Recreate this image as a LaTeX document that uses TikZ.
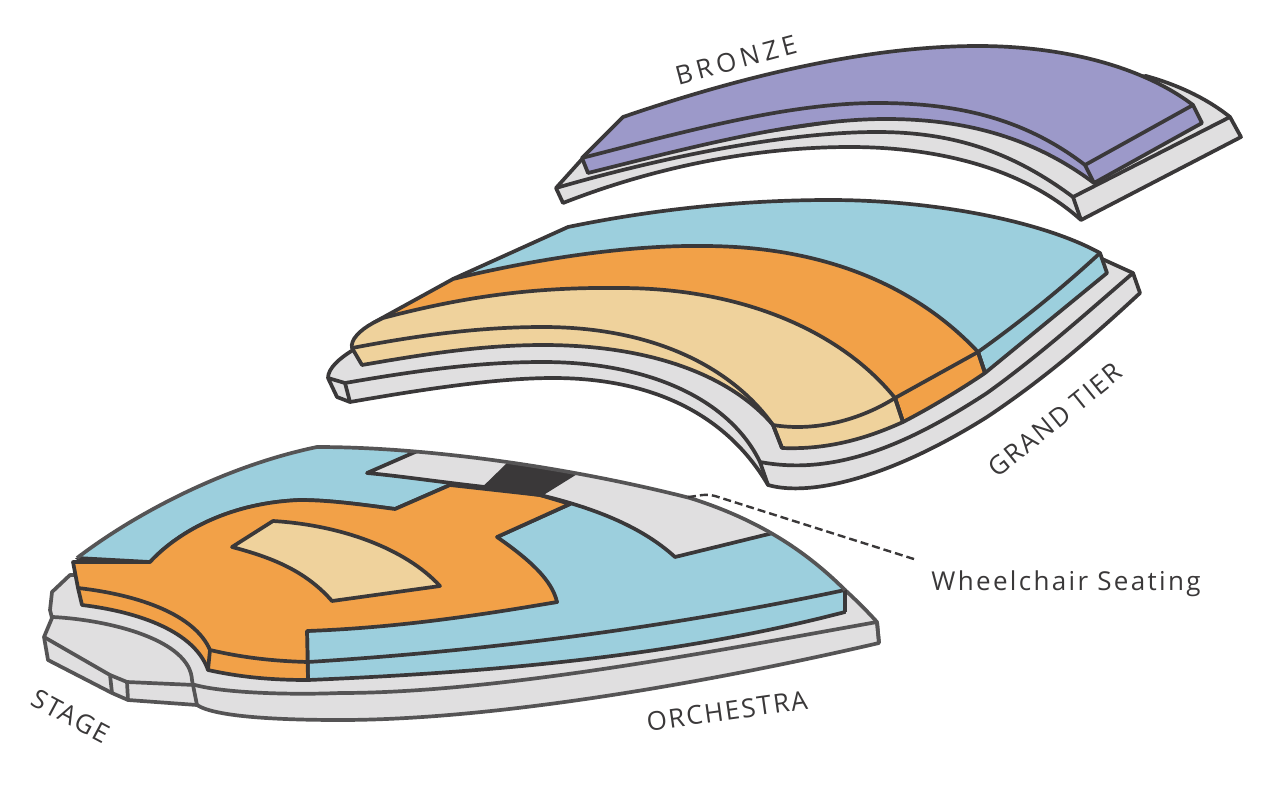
\documentclass[tikz,border=0pt]{standalone}
\usepackage{fontspec}
\usepackage{tikz}
\newfontfamily\tierfont[LetterSpace=7]{Open Sans}
\newfontfamily\widefont[LetterSpace=17]{Open Sans}
\newfontfamily\notefont[LetterSpace=9]{Open Sans}
\definecolor{inkgray}{HTML}{3A3839}
\definecolor{rimgray}{HTML}{555455}
\definecolor{slabgray}{HTML}{E0DFE0}
\definecolor{seatblue}{HTML}{9CCFDD}
\definecolor{seatorange}{HTML}{F2A148}
\definecolor{seatcream}{HTML}{EFD29C}
\definecolor{seatpurple}{HTML}{9C99C9}
\def\drawslab{\draw[fill=slabgray,line width=3.7pt,line join=round,draw=inkgray]}
\def\drawfloor{\draw[fill=slabgray,line width=3.7pt,line join=round,draw=rimgray]}
\def\drawedge{\draw[line width=3.7pt,line join=round,draw=inkgray]}
\def\drawrim{\draw[line width=3.7pt,line join=round,draw=rimgray]}
\def\tiernode{\node[text=inkgray,font=\tierfont\fontsize{26}{26}\selectfont]}
\begin{document}
\begin{tikzpicture}[x=1pt,y=-1pt]
\useasboundingbox (0,0) rectangle (1281,800);

% ---------- BRONZE ----------
\drawslab (556,188) -- (583,158) -- (1146,76)
  .. controls (1175,84) and (1205,97) .. (1230,117)
  -- (1241,137) -- (1081,220)
  .. controls (1020,165) and (930,147) .. (850,147)
  .. controls (760,147) and (660,165) .. (563,203)
  -- cycle;
\drawedge (1230,117) -- (1073,197)
  .. controls (1010,150) and (950,132) .. (877,132)
  .. controls (790,132) and (670,155) .. (556,188);
\drawedge (1073,197) -- (1081,220);
% purple block
\drawslab[fill=seatpurple] (582,158) -- (623,117)
  .. controls (760,70) and (880,46) .. (978,46)
  .. controls (1060,46) and (1140,65) .. (1193,105)
  -- (1202,123) -- (1094,183)
  .. controls (1030,135) and (960,119) .. (886,119)
  .. controls (800,119) and (700,145) .. (588,173)
  -- cycle;
\drawedge (1193,105) -- (1085,165)
  .. controls (1020,115) and (950,103) .. (877,103)
  .. controls (790,103) and (690,130) .. (582,158);
\drawedge (1085,165) -- (1094,183);

% ---------- GRAND TIER ----------
\drawslab (353,350) .. controls (340,358) and (328,368) .. (328,378)
  -- (337,397) -- (350,402)
  .. controls (430,388) and (500,378) .. (553,378)
  .. controls (660,378) and (730,420) .. (768,485)
  .. controls (810,497) and (890,478) .. (987,417)
  .. controls (1050,375) and (1100,330) .. (1140,293)
  -- (1133,273) -- (1100,258) -- cycle;
\drawedge (328,378) -- (345,383)
  .. controls (420,370) and (480,362) .. (543,362)
  .. controls (650,362) and (730,400) .. (760,462)
  .. controls (830,475) and (900,450) .. (987,393)
  .. controls (1040,355) and (1090,310) .. (1133,273);
\drawedge (345,383) -- (350,402);
\drawedge (760,462) -- (768,485);
% blue seats at the back
\drawslab[fill=seatblue] (453,279) -- (568,227)
  .. controls (650,210) and (740,200) .. (830,200)
  .. controls (930,200) and (1040,220) .. (1100,253)
  -- (1107,273) -- (985,373) -- (978,352) -- (895,398) -- (720,300) -- cycle;
\drawedge (1100,253) .. controls (1060,290) and (1020,322) .. (978,352);
% orange seats
\drawslab[fill=seatorange] (373,323) -- (453,279)
  .. controls (540,258) and (630,245) .. (703,246)
  .. controls (830,246) and (920,290) .. (978,352)
  -- (985,373) .. controls (960,390) and (930,408) .. (903,422)
  -- (895,398) -- (703,340) -- cycle;
\drawedge (978,352) -- (895,398);
% cream seats
\drawslab[fill=seatcream] (352,348)
  .. controls (350,340) and (360,330) .. (373,323)
  -- (383,318)
  .. controls (470,295) and (540,287) .. (620,288)
  .. controls (740,288) and (840,330) .. (895,398)
  -- (903,422)
  .. controls (870,437) and (830,450) .. (782,448)
  -- (773,425)
  .. controls (730,375) and (650,345) .. (543,345)
  .. controls (480,345) and (420,355) .. (362,365)
  -- cycle;
\drawedge (352,348)
  .. controls (420,335) and (480,327) .. (543,327)
  .. controls (650,327) and (730,365) .. (773,425)
  .. controls (815,432) and (860,420) .. (895,398);
\drawedge (773,425) -- (782,448);
\drawedge (895,398) -- (903,422);
\drawedge (978,352) -- (985,373);

% ---------- ORCHESTRA ----------
% floor slab with the stage
\drawfloor (70,575) -- (52,592) -- (50,610) -- (52,618) -- (44,637) -- (48,660)
  -- (112,693) -- (128,700) -- (197,705)
  .. controls (215,717) and (280,720) .. (340,720)
  .. controls (500,720) and (720,680) .. (879,643)
  -- (877,622) .. controls (867,611) and (856,600) .. (845,590) -- cycle;
\drawrim (44,637) -- (110,675) -- (112,693);
\drawrim (110,675) -- (127,682) -- (128,700);
\drawrim (127,682) -- (195,685)
  .. controls (225,693) and (290,695) .. (340,693)
  .. controls (500,693) and (720,650) .. (877,622);
\drawrim (877,622) -- (879,643);
\drawrim (53,617) .. controls (110,620) and (190,640) .. (192,680) -- (197,705);
% seats, cut off along the rear rail
\begin{scope}
\clip (77,558) .. controls (140,510) and (230,465) .. (317,447)
  .. controls (420,447) and (560,465) .. (690,498)
  .. controls (750,517) and (800,545) .. (845,590)
  -- (850,700) -- (60,700) -- (60,558) -- cycle;
% blue seats at the right
\drawslab[fill=seatblue] (570,504) -- (497,537) -- (557,602) -- (307,631) -- (308,680)
  .. controls (500,672) and (680,655) .. (845,612)
  -- (845,560) -- (773,500) -- (600,480) -- cycle;
\drawedge (308,662) .. controls (500,650) and (680,625) .. (845,590);
% blue seats at the left
\drawslab[fill=seatblue] (77,558) -- (150,562)
  .. controls (175,535) and (225,503) .. (300,500)
  .. controls (330,500) and (365,505) .. (395,509)
  -- (450,485) -- (470,420) -- (60,420) -- cycle;
% orange seats
\drawslab[fill=seatorange] (73,562) -- (150,562)
  .. controls (175,535) and (225,503) .. (300,500)
  .. controls (330,500) and (365,505) .. (395,509)
  -- (450,485) -- (540,495) -- (570,504) -- (497,537)
  .. controls (530,560) and (552,580) .. (557,602)
  .. controls (470,617) and (390,628) .. (307,631)
  -- (308,680)
  .. controls (270,680) and (240,677) .. (208,670)
  .. controls (195,632) and (140,612) .. (82,605)
  -- (78,588) -- cycle;
\drawedge (78,588) .. controls (140,595) and (195,615) .. (210,650)
  .. controls (240,657) and (270,661) .. (308,662);
\drawedge (210,650) -- (208,670);
% cream seats
\drawslab[fill=seatcream] (232,547) -- (273,521)
  .. controls (340,525) and (405,548) .. (440,586)
  -- (332,601)
  .. controls (305,570) and (270,557) .. (232,547) -- cycle;
% strip along the rear rail
\drawslab (422,440) -- (523,450) -- (523,462) -- (485,487)
  .. controls (440,482) and (400,476) .. (367,473) -- (422,449) -- cycle;
\drawslab[fill=inkgray] (523,450) -- (590,462) -- (540,495) -- (485,487) -- cycle;
\drawslab (577,472) -- (590,460) -- (790,510) -- (773,533) -- (675,557)
  .. controls (640,525) and (590,507) .. (540,495) -- cycle;
\end{scope}
\drawedge (845,590) -- (845,612);
% rear rail over everything
\drawrim (77,558) .. controls (140,510) and (230,465) .. (317,447)
  .. controls (420,447) and (560,465) .. (690,498)
  .. controls (750,517) and (800,545) .. (845,590);

% ---------- labels ----------
\coordinate (dash_start) at (688,497);
\coordinate (dash_bend) at (715,496);
\coordinate (dash_end) at (917,560);
\draw[line width=2.4pt,draw=inkgray,dash pattern=on 8pt off 4pt] (dash_start) to[out=5,in=165] (dash_bend) -- (dash_end);
\node[text=inkgray,font=\widefont\fontsize{26}{26}\selectfont] (bronze) at (736,60) [rotate=15] {BRONZE};
\tiernode (grandtier) at (1055,420) [rotate=39] {GRAND TIER};
\tiernode (orchestra) at (727,711) [rotate=8] {ORCHESTRA};
\tiernode (stage) at (71,716) [rotate=-28] {STAGE};
\node[text=inkgray,font=\notefont\fontsize{26}{26}\selectfont] (wheelchair) at (1066,584) {Wheelchair Seating};
\end{tikzpicture}
\end{document}
